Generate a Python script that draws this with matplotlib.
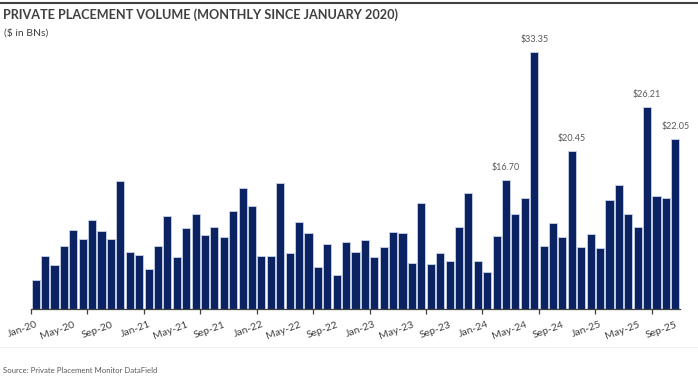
import matplotlib
matplotlib.use("Agg")
import matplotlib.pyplot as plt
from matplotlib.lines import Line2D

months = ["Jan", "Feb", "Mar", "Apr", "May", "Jun", "Jul", "Aug", "Sep", "Oct", "Nov", "Dec"]
categories = [f"{m}-{y:02d}" for y in range(20, 26) for m in months][:69]

values = [
    3.7, 6.9, 5.75, 8.2, 10.2, 9.1, 11.5, 10.1, 9.1, 16.6, 7.4, 7.05,
    5.2, 8.2, 12.0, 6.8, 10.5, 12.3, 9.6, 10.7, 9.3, 12.7, 15.75, 13.3,
    6.9, 6.9, 16.4, 7.3, 11.3, 9.9, 5.5, 8.45, 4.45, 8.7, 7.35, 9.0,
    6.8, 8.1, 10.0, 9.9, 6.0, 13.8, 5.85, 7.3, 6.2, 10.7, 15.1, 6.2,
    4.85, 9.5, 16.70, 12.3, 14.45, 33.35, 8.2, 11.2, 9.4, 20.45, 8.1, 9.75,
    7.85, 14.2, 16.1, 12.3, 10.7, 26.21, 14.6, 14.45, 22.05,
]
labeled = ["Mar-24", "Jun-24", "Oct-24", "Jun-25", "Sep-25"]

title = "PRIVATE PLACEMENT VOLUME (MONTHLY SINCE JANUARY 2020)"
subtitle = "($ in BNs)"
source = "Source: Private Placement Monitor DataField"

FONT = "Lato"
W, H = 698, 379
fig = plt.figure(figsize=(W / 100, H / 100), dpi=100)
fig.patch.set_facecolor("white")

left, right, base, top = 31, 680, 309, 40
ax = fig.add_axes([left / W, (H - base) / H, (right - left) / W, (base - top) / H])
x = list(range(len(values)))
ax.bar(x, values, width=0.86, color="#0b2363", edgecolor="#c9d3e6", linewidth=0.6)
ax.set_xlim(-0.5, len(values) - 0.5)
ax.set_ylim(0, (base - top) / 7.71)

for i, (c, v) in enumerate(zip(categories, values)):
    if c in labeled:
        ax.annotate(f"${v:.2f}", (i, v), xytext=(0, 6), textcoords="offset points",
                    ha="center", va="bottom", fontsize=6.5, color="#595959", family=FONT)

for s in ["top", "right", "left"]:
    ax.spines[s].set_visible(False)
ax.spines["bottom"].set_color("#404040")
ax.spines["bottom"].set_linewidth(0.9)
ax.set_yticks([])

ax.set_xticks([i - 0.5 for i in range(0, len(values), 6)])
ax.set_xticklabels([])
ax.tick_params(axis="x", which="major", length=3.5, width=0.9, color="#404040", direction="out")
ax.set_xticks(list(range(0, len(values), 4)), minor=True)
ax.set_xticklabels([categories[i] for i in range(0, len(values), 4)], minor=True,
                   rotation=20, ha="right", rotation_mode="anchor",
                   fontsize=7.5, color="#404040", family=FONT)
ax.tick_params(axis="x", which="minor", length=0, pad=8)

fig.text(3 / W, 1 - 15 / H, title, fontsize=9.1, fontweight="bold", color="#404040",
         family=FONT, ha="left", va="center")
fig.text(4 / W, 1 - 33 / H, subtitle, fontsize=7.5, color="#404040",
         family=FONT, ha="left", va="center")
fig.text(3 / W, 1 - 370.5 / H, source, fontsize=5.6, color="#595959",
         family=FONT, ha="left", va="center")

fig.add_artist(Line2D([0, 1], [1 - 3 / H, 1 - 3 / H], transform=fig.transFigure,
                      color="#404040", linewidth=1.5))
fig.add_artist(Line2D([0, 1], [1 - 346.5 / H, 1 - 346.5 / H], transform=fig.transFigure,
                      color="#f0f0f0", linewidth=0.8))

fig.savefig("out.png", dpi=100, facecolor="white")
